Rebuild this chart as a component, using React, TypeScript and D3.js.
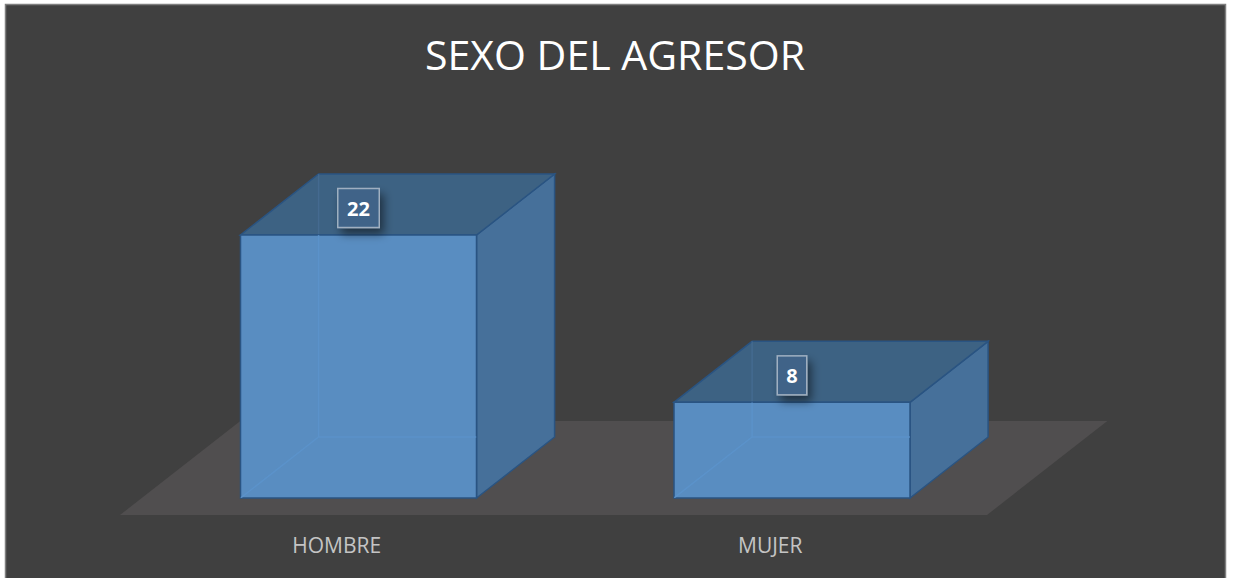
import React from "react";
import * as d3 from "d3";

const categories = ["HOMBRE", "MUJER"];
const values = [22, 8];
const title = "SEXO DEL AGRESOR";

const W = 1234;
const H = 578;

export default function App() {
  const floorFrontY = 515;
  const floorDepth = 94;
  const ratio = 1.28;
  const barDepthStart = 17;
  const barDepth = 61;

  const x = d3.scaleBand<string>().domain(categories).range([120, 987]).paddingInner(0).paddingOuter(0);
  const barW = 236;
  const y = d3.scaleLinear().domain([0, 22]).range([0, 263]);

  const off = (d: number) => [d * ratio, -d];
  const [fbx, fby] = off(floorDepth);
  const floorPts: [number, number][] = [
    [120, floorFrontY],
    [987, floorFrontY],
    [987 + fbx, floorFrontY + fby],
    [120 + fbx, floorFrontY + fby],
  ];
  const line = d3.line();

  const [sx, sy] = off(barDepthStart);
  const [dx, dy] = off(barDepth);

  return (
    <svg width={W} height={H} style={{ position: "fixed", left: 0, top: 0 }} xmlns="http://www.w3.org/2000/svg">
      <defs>
        <filter id="lblShadow" x="-50%" y="-50%" width="200%" height="250%">
          <feGaussianBlur in="SourceAlpha" stdDeviation="5" />
          <feOffset dx="4" dy="6" result="b" />
          <feComponentTransfer>
            <feFuncA type="linear" slope="0.5" />
          </feComponentTransfer>
          <feMerge>
            <feMergeNode />
            <feMergeNode in="SourceGraphic" />
          </feMerge>
        </filter>
        {categories.map((c, i) => {
          const cx = x(c)! + x.bandwidth() / 2;
          const h = y(values[i]);
          const fx0 = cx - barW / 2 + sx;
          const fyb = floorFrontY + sy;
          return (
            <clipPath id={`front${i}`} key={c}>
              <rect x={fx0} y={fyb - h} width={barW} height={h} />
            </clipPath>
          );
        })}
      </defs>
      <rect x={0} y={0} width={W} height={H} fill="#ffffff" />
      <rect x={5.5} y={4.5} width={1220} height={H + 10} fill="#404040" stroke="#7f7f7f" strokeWidth={1.5} />
      <text
        x={615}
        y={70}
        textAnchor="middle"
        fill="#ffffff"
        fontFamily="'Open Sans', 'Noto Sans', sans-serif"
        fontSize={40}
        textLength={380}
        lengthAdjust="spacingAndGlyphs"
      >
        {title}
      </text>
      <path d={line(floorPts)! + "Z"} fill="#504e4f" />
      {categories.map((c, i) => {
        const cx = x(c)! + x.bandwidth() / 2;
        const h = y(values[i]);
        const fx0 = cx - barW / 2 + sx;
        const fx1 = fx0 + barW;
        const fyb = floorFrontY + sy;
        const fyt = fyb - h;
        const front = [[fx0, fyb], [fx1, fyb], [fx1, fyt], [fx0, fyt]] as [number, number][];
        const top = [[fx0, fyt], [fx1, fyt], [fx1 + dx, fyt + dy], [fx0 + dx, fyt + dy]] as [number, number][];
        const side = [[fx1, fyb], [fx1 + dx, fyb + dy], [fx1 + dx, fyt + dy], [fx1, fyt]] as [number, number][];
        const label = String(values[i]);
        const bw = 12 * label.length + 17.5;
        const bh = 39;
        const lcx = (fx0 + fx1) / 2;
        const lcy = fyt - 27;
        return (
          <g key={c}>
            <path d={line(side)! + "Z"} fill="#46709a" stroke="#2a5482" strokeWidth={1.5} />
            <path d={line(top)! + "Z"} fill="#3d6283" stroke="#2a5482" strokeWidth={1.5} />
            <path
              d={`M${fx0 + dx},${fyt + dy}L${fx0 + dx},${fyt}`}
              stroke="#4a7099"
              strokeOpacity={0.6}
              strokeWidth={1.5}
            />
            <path d={line(front)! + "Z"} fill="#598dc1" stroke="#2a5482" strokeWidth={1.5} />
            <path
              clipPath={`url(#front${i})`}
              d={`M${fx0},${fyb}L${fx0 + dx},${fyb + dy}L${fx1},${fyb + dy}M${fx0 + dx},${fyb + dy}L${fx0 + dx},${fyt}`}
              fill="none"
              stroke="#5b93cc"
              strokeOpacity={0.8}
              strokeWidth={1.5}
            />
            <g filter="url(#lblShadow)">
              <rect x={lcx - bw / 2} y={lcy - bh / 2} width={bw} height={bh} fill="#3f6488" stroke="#c0cad6" strokeOpacity={0.75} strokeWidth={1.5} />
            </g>
            <text
              x={lcx}
              y={lcy + 7.5}
              textAnchor="middle"
              fill="#ffffff"
              fontFamily="'Open Sans', 'Noto Sans', sans-serif"
              fontWeight={700}
              fontSize={20}
            >
              {label}
            </text>
            <text
              x={cx}
              y={553}
              textAnchor="middle"
              fill="#c4c4c4"
              fontFamily="'Open Sans', 'Noto Sans', sans-serif"
              fontSize={21}
            >
              {c}
            </text>
          </g>
        );
      })}
    </svg>
  );
}
